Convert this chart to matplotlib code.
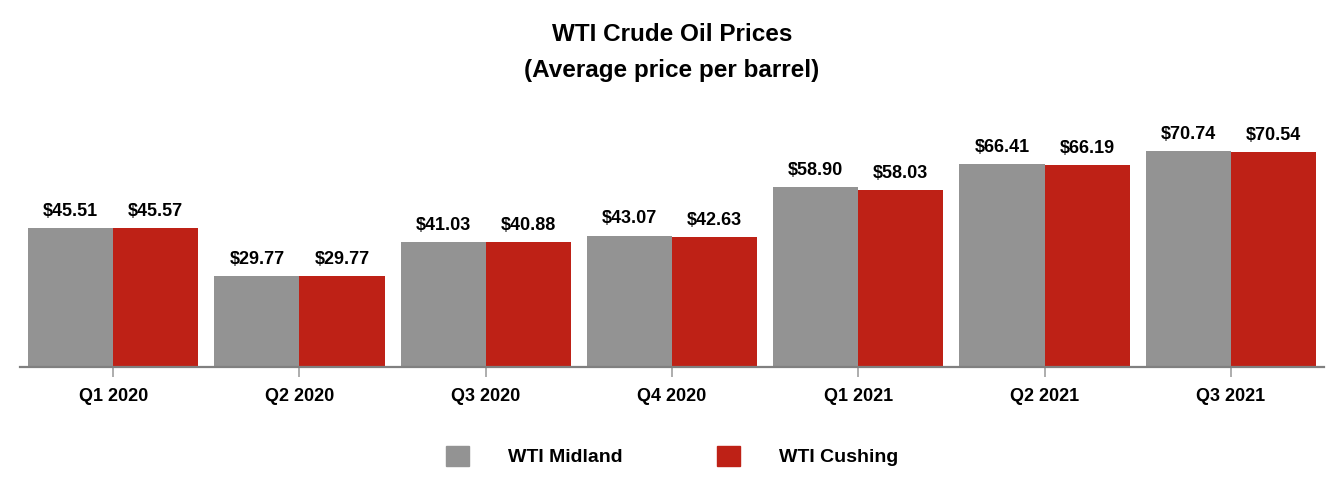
import matplotlib.pyplot as plt
import numpy as np
from matplotlib.patches import Patch

plt.rcParams['font.family'] = ['Liberation Sans Narrow', 'Liberation Sans', 'DejaVu Sans']
plt.rcParams['font.weight'] = 'bold'

quarters = ["Q1 2020", "Q2 2020", "Q3 2020", "Q4 2020", "Q1 2021", "Q2 2021", "Q3 2021"]
midland = [45.51, 29.77, 41.03, 43.07, 58.90, 66.41, 70.74]
cushing = [45.57, 29.77, 40.88, 42.63, 58.03, 66.19, 70.54]

gris = "#939393"
rojo = "#BE2116"

fig = plt.figure(figsize=(13.44, 5), dpi=100)
ax = fig.add_axes([20 / 1344, 133 / 500, 1304 / 1344, 244 / 500])

x = np.arange(len(quarters))
w = 0.457

b1 = ax.bar(x - w / 2, midland, w, color=gris)
b2 = ax.bar(x + w / 2, cushing, w, color=rojo)

ax.bar_label(b1, labels=["$%.2f" % v for v in midland], padding=6, fontsize=13, fontweight='bold')
ax.bar_label(b2, labels=["$%.2f" % v for v in cushing], padding=6, fontsize=13, fontweight='bold')

ax.set_xlim(-0.5, len(quarters) - 0.5)
ax.set_ylim(0, 80)
ax.set_xticks(x)
ax.set_xticklabels(quarters, fontsize=13, fontweight='bold')
ax.set_yticks([])
for s in ["top", "right", "left"]:
    ax.spines[s].set_visible(False)
ax.spines["bottom"].set_color("#808080")
ax.spines["bottom"].set_linewidth(1.6)
ax.tick_params(axis='x', length=7, width=1.2, color="#a0a0a0", pad=8)

fig.text(0.5, 1 - 34 / 500, "WTI Crude Oil Prices", ha='center', va='center', fontsize=17.5, fontweight='bold')
fig.text(0.5, 1 - 71 / 500, "(Average price per barrel)", ha='center', va='center', fontsize=17.5, fontweight='bold')

handles = [Patch(color=gris, label="WTI Midland"), Patch(color=rojo, label="WTI Cushing")]
fig.legend(handles=handles, loc='center', bbox_to_anchor=(0.5, 1 - 456 / 500), ncol=2, frameon=False,
           fontsize=14, handlelength=1.2, handleheight=1.2, handletextpad=2.0, columnspacing=4.85)

plt.savefig("out.png", dpi=100)
